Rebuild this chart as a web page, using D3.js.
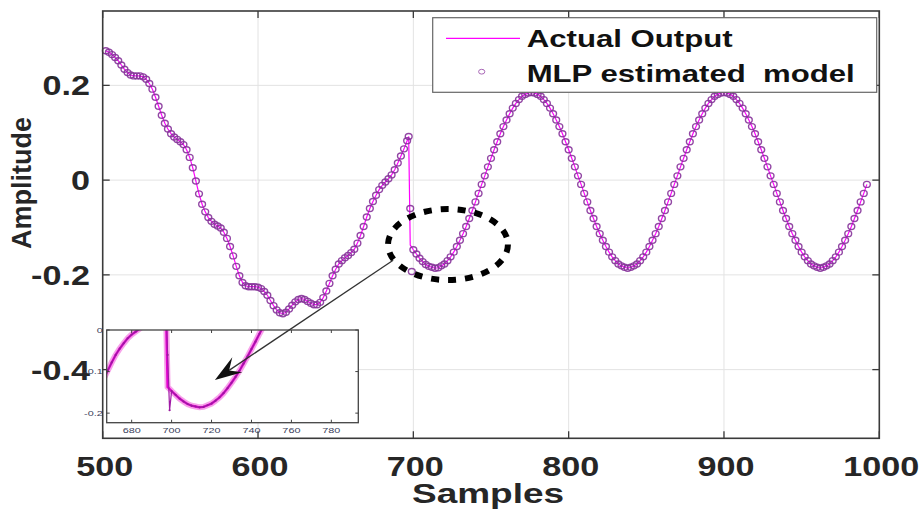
<!DOCTYPE html>
<html>
<head>
<meta charset="utf-8">
<script src="https://cdnjs.cloudflare.com/ajax/libs/d3/7.8.5/d3.min.js"></script>
<style>
  body { margin: 0; background: #fff; }
  svg { display: block; font-family: "Liberation Sans", Arial, sans-serif; }
</style>
</head>
<body>
<svg width="922" height="517"></svg>
<script>
// ################################### Data #######################################

var xTicks = [500, 600, 700, 800, 900, 1000];
var yTicks = [-0.4, -0.2, 0, 0.2];
var yTickLabels = ["-0.4", "-0.2", "0", "0.2"];
var insetXTicks = [680, 700, 720, 740, 760, 780];
var insetYTicks = [0, -0.1, -0.2];
var insetYTickLabels = ["0", "-0.1", "-0.2"];

// actual output, samples 502..696 every 2 samples
var startA = 502;
var actualA = [
  0.273, 0.270, 0.265, 0.259, 0.252, 0.243, 0.234, 0.227, 0.222, 0.220,
  0.220, 0.220, 0.218, 0.213, 0.204, 0.192, 0.175, 0.156, 0.137, 0.120,
  0.108, 0.098, 0.091, 0.086, 0.081, 0.075, 0.064, 0.048, 0.026, -0.002,
  -0.029, -0.051, -0.067, -0.079, -0.087, -0.093, -0.097, -0.101, -0.110, -0.123,
  -0.140, -0.160, -0.182, -0.202, -0.216, -0.223, -0.225, -0.225, -0.225, -0.226,
  -0.229, -0.235, -0.243, -0.254, -0.265, -0.274, -0.280, -0.282, -0.279, -0.272,
  -0.264, -0.257, -0.252, -0.250, -0.252, -0.256, -0.260, -0.263, -0.263, -0.258,
  -0.248, -0.234, -0.218, -0.202, -0.188, -0.177, -0.170, -0.164, -0.159, -0.153,
  -0.146, -0.133, -0.117, -0.098, -0.078, -0.060, -0.045, -0.032, -0.020, -0.011,
  -0.004, 0.003, 0.011, 0.022, 0.036, 0.051, 0.066, 0.083
];

// the jump
var jumpSamples = [697, 698, 699, 700];
var actualJump = [0.092, -0.137, -0.142, -0.147];

// actual output, samples 702..992 every 2 samples
var startB = 702;
var actualB = [
  -0.156, -0.165, -0.172, -0.178, -0.182, -0.184, -0.186, -0.185, -0.181, -0.177,
  -0.170, -0.162, -0.152, -0.140, -0.127, -0.113, -0.098, -0.081, -0.064, -0.046,
  -0.028, -0.009, 0.009, 0.028, 0.046, 0.064, 0.081, 0.098, 0.113, 0.127,
  0.140, 0.152, 0.162, 0.170, 0.177, 0.181, 0.184, 0.185,
  0.184, 0.181, 0.177, 0.170, 0.162, 0.152, 0.140, 0.127, 0.113, 0.098,
  0.081, 0.064, 0.046, 0.028, 0.009, -0.009, -0.028, -0.046, -0.064, -0.081,
  -0.098, -0.113, -0.127, -0.140, -0.152, -0.162, -0.170, -0.177, -0.181, -0.184,
  -0.186,
  -0.184, -0.181, -0.177, -0.170, -0.162, -0.152, -0.140, -0.127, -0.113, -0.098,
  -0.081, -0.064, -0.046, -0.028, -0.009, 0.009, 0.028, 0.046, 0.064, 0.081,
  0.098, 0.113, 0.127, 0.140, 0.152, 0.162, 0.170, 0.177, 0.181, 0.184,
  0.185,
  0.184, 0.181, 0.177, 0.170, 0.162, 0.152, 0.140, 0.127, 0.113, 0.098,
  0.081, 0.064, 0.046, 0.028, 0.009, -0.009, -0.028, -0.046, -0.064, -0.081,
  -0.098, -0.113, -0.127, -0.140, -0.152, -0.162, -0.170, -0.177, -0.181, -0.184,
  -0.186,
  -0.184, -0.181, -0.177, -0.170, -0.162, -0.152, -0.140, -0.127, -0.113, -0.098,
  -0.081, -0.064, -0.046, -0.028, -0.009
];

// where the MLP estimate differs from the actual output
var mlpOutlierSamples = [698, 699];
var mlpOutlierValues = [-0.060, -0.193];

var rows = [];
actualA.forEach(function(v, i) { rows.push({s: startA + 2 * i, actual: v}); });
jumpSamples.forEach(function(s, i) { rows.push({s: s, actual: actualJump[i]}); });
actualB.forEach(function(v, i) { rows.push({s: startB + 2 * i, actual: v}); });
rows.forEach(function(d) {
  var k = mlpOutlierSamples.indexOf(d.s);
  d.mlp = k >= 0 ? mlpOutlierValues[k] : d.actual;
});

// ################################### Layout #######################################

var svg = d3.select('svg');
var plot = {l: 102.7, r: 879.3, t: 11, b: 438.3};
var inset = {l: 106.7, r: 358.3, t: 330, b: 422.7};

var x = d3.scaleLinear().domain([500, 1000]).range([plot.l, plot.r]);
var y = d3.scaleLinear().domain([-0.545, 0.357]).range([plot.b, plot.t]);
var xi = d3.scaleLinear().domain([667.5, 793.5]).range([inset.l, inset.r]);
var yi = d3.scaleLinear().domain([-0.223, 0]).range([inset.b, inset.t]);

var textColor = "#262626";
var lineColor = "#ff00ff";
var markerColor = "#86339a";

// stretch text horizontally (the reference picture is wider than it is tall)
function stretch(sel, f) {
  sel.each(function() {
    var w = this.getComputedTextLength();
    d3.select(this).attr("textLength", w * f).attr("lengthAdjust", "spacingAndGlyphs");
  });
}

// ################################### Main axes #######################################

var gridG = svg.append('g');
gridG.selectAll('line.gx').data(xTicks.slice(1, -1)).enter().append('line')
  .attr('x1', function(d) { return x(d); }).attr('x2', function(d) { return x(d); })
  .attr('y1', plot.t).attr('y2', plot.b)
  .attr('stroke', '#e3e3e3').attr('stroke-width', 1);
gridG.selectAll('line.gy').data(yTicks).enter().append('line')
  .attr('x1', plot.l).attr('x2', plot.r)
  .attr('y1', function(d) { return y(d); }).attr('y2', function(d) { return y(d); })
  .attr('stroke', '#e3e3e3').attr('stroke-width', 1);

// Actual output line
var line = d3.line().x(function(d) { return x(d.s); }).y(function(d) { return y(d.actual); });
svg.append('path').datum(rows)
  .attr('d', line)
  .attr('fill', 'none')
  .attr('stroke', lineColor)
  .attr('stroke-width', 1.2);

// MLP markers
svg.append('g').selectAll('ellipse').data(rows).enter().append('ellipse')
  .attr('cx', function(d) { return x(d.s); })
  .attr('cy', function(d) { return y(d.mlp); })
  .attr('rx', 3.4).attr('ry', 3.0)
  .attr('fill', 'none')
  .attr('stroke', markerColor)
  .attr('stroke-opacity', 0.9)
  .attr('stroke-width', 1.4);

// frame + ticks
svg.append('rect')
  .attr('x', plot.l).attr('y', plot.t)
  .attr('width', plot.r - plot.l).attr('height', plot.b - plot.t)
  .attr('fill', 'none').attr('stroke', '#3a3a3a').attr('stroke-width', 1.6);

var tickG = svg.append('g').attr('stroke', '#3a3a3a').attr('stroke-width', 1.3);
xTicks.forEach(function(t) {
  tickG.append('line').attr('x1', x(t)).attr('x2', x(t)).attr('y1', plot.b).attr('y2', plot.b - 7);
  tickG.append('line').attr('x1', x(t)).attr('x2', x(t)).attr('y1', plot.t).attr('y2', plot.t + 7);
});
yTicks.forEach(function(t) {
  tickG.append('line').attr('x1', plot.l).attr('x2', plot.l + 7).attr('y1', y(t)).attr('y2', y(t));
  tickG.append('line').attr('x1', plot.r).attr('x2', plot.r - 7).attr('y1', y(t)).attr('y2', y(t));
});

var xLab = svg.append('g').selectAll('text').data(xTicks).enter().append('text')
  .attr('x', function(d) { return x(d) + 2; })
  .attr('y', 476)
  .attr('text-anchor', 'middle')
  .attr('font-size', '28px').attr('font-weight', 'bold')
  .attr('fill', textColor)
  .text(function(d) { return d; });
stretch(xLab, 1.22);

var yLab = svg.append('g').selectAll('text').data(yTicks).enter().append('text')
  .attr('x', 90)
  .attr('y', function(d) { return y(d) + 10; })
  .attr('text-anchor', 'end')
  .attr('font-size', '28px').attr('font-weight', 'bold')
  .attr('fill', textColor)
  .text(function(d, i) { return yTickLabels[i]; });
stretch(yLab, 1.22);

var sampLab = svg.append('text')
  .attr('x', 488).attr('y', 503)
  .attr('text-anchor', 'middle')
  .attr('font-size', '28px').attr('font-weight', 'bold')
  .attr('fill', textColor)
  .text('Samples');
stretch(sampLab, 1.32);

svg.append('text')
  .attr('transform', 'translate(31,183) rotate(-90)')
  .attr('text-anchor', 'middle')
  .attr('font-size', '27px').attr('font-weight', 'bold')
  .attr('fill', textColor)
  .text('Amplitude');

// ################################### Inset #######################################

var insetG = svg.append('g');
svg.append('clipPath').attr('id', 'insetClip').append('rect')
  .attr('x', inset.l).attr('y', inset.t)
  .attr('width', inset.r - inset.l).attr('height', inset.b - inset.t);

insetG.append('rect')
  .attr('x', inset.l).attr('y', inset.t)
  .attr('width', inset.r - inset.l).attr('height', inset.b - inset.t)
  .attr('fill', '#fff');

var insetData = rows.filter(function(d) { return d.s >= 660 && d.s <= 760; });
var insetLine = d3.line().x(function(d) { return xi(d.s); }).y(function(d) { return yi(d.actual); });
var insetMlp = d3.line().x(function(d) { return xi(d.s); }).y(function(d) { return yi(d.mlp); });
var clipped = insetG.append('g').attr('clip-path', 'url(#insetClip)');
clipped.append('path').datum(insetData).attr('d', insetLine)
  .attr('fill', 'none').attr('stroke', '#f7a3ea').attr('stroke-width', 6);
clipped.append('path').datum(insetData).attr('d', insetLine)
  .attr('fill', 'none').attr('stroke', '#e600d2').attr('stroke-width', 2.4);
clipped.append('path').datum(insetData).attr('d', insetMlp)
  .attr('fill', 'none').attr('stroke', '#a01aa6').attr('stroke-width', 1.2);
clipped.selectAll('circle').data(insetData).enter().append('circle')
  .attr('cx', function(d) { return xi(d.s); })
  .attr('cy', function(d) { return yi(d.mlp); })
  .attr('r', 1.1).attr('fill', '#9a1a9e');

insetG.append('rect')
  .attr('x', inset.l).attr('y', inset.t)
  .attr('width', inset.r - inset.l).attr('height', inset.b - inset.t)
  .attr('fill', 'none').attr('stroke', '#444').attr('stroke-width', 1.3);

var iTick = insetG.append('g').attr('stroke', '#444').attr('stroke-width', 1);
insetXTicks.forEach(function(t) {
  iTick.append('line').attr('x1', xi(t)).attr('x2', xi(t)).attr('y1', inset.b).attr('y2', inset.b - 3);
  iTick.append('line').attr('x1', xi(t)).attr('x2', xi(t)).attr('y1', inset.t).attr('y2', inset.t + 3);
});
insetYTicks.forEach(function(t) {
  iTick.append('line').attr('x1', inset.l).attr('x2', inset.l + 3).attr('y1', yi(t)).attr('y2', yi(t));
  iTick.append('line').attr('x1', inset.r).attr('x2', inset.r - 3).attr('y1', yi(t)).attr('y2', yi(t));
});

var ixLab = insetG.selectAll('text.ix').data(insetXTicks).enter().append('text')
  .attr('x', function(d) { return xi(d); })
  .attr('y', 432.5)
  .attr('text-anchor', 'middle')
  .attr('font-size', '8px')
  .attr('fill', '#39405a')
  .text(function(d) { return d; });
stretch(ixLab, 1.35);

var iyLab = insetG.selectAll('text.iy').data(insetYTicks).enter().append('text')
  .attr('x', inset.l - 4)
  .attr('y', function(d) { return yi(d) + 2.5; })
  .attr('text-anchor', 'end')
  .attr('font-size', '8px')
  .attr('fill', '#39405a')
  .text(function(d, i) { return insetYTickLabels[i]; });
stretch(iyLab, 1.35);

// ################################### Annotations #######################################

// dashed ellipse round the jump
svg.append('ellipse')
  .attr('cx', x(722.3)).attr('cy', y(-0.136))
  .attr('rx', x(722.3 + 38.6) - x(722.3))
  .attr('ry', y(-0.136) - y(-0.136 + 0.075))
  .attr('fill', 'none')
  .attr('stroke', '#000')
  .attr('stroke-width', 6)
  .attr('stroke-dasharray', '8 9');

// arrow from the ellipse into the inset
var tail = [x(687), y(-0.169)];
var tip = [xi(721.7), yi(-0.120)];
var ang = Math.atan2(tip[1] - tail[1], tip[0] - tail[0]) * 180 / Math.PI;
var notch = 17;
var len = Math.hypot(tip[0] - tail[0], tip[1] - tail[1]);
svg.append('line')
  .attr('x1', tail[0]).attr('y1', tail[1])
  .attr('x2', tail[0] + (tip[0] - tail[0]) * (len - notch) / len)
  .attr('y2', tail[1] + (tip[1] - tail[1]) * (len - notch) / len)
  .attr('stroke', '#333').attr('stroke-width', 1.3);
svg.append('path')
  .attr('transform', 'translate(' + tip + ') rotate(' + ang + ')')
  .attr('d', 'M0,0 L-27,-9 L-17,0 L-27,9 Z')
  .attr('fill', '#111');

// ################################### Legend #######################################

var legendG = svg.append('g');
legendG.append('rect')
  .attr('x', 432.7).attr('y', 17.7)
  .attr('width', 444).attr('height', 74.6)
  .attr('fill', '#fff').attr('stroke', '#666').attr('stroke-width', 1.2);
legendG.append('line')
  .attr('x1', 446).attr('x2', 520).attr('y1', 38.3).attr('y2', 38.3)
  .attr('stroke', lineColor).attr('stroke-width', 1.3);
legendG.append('ellipse')
  .attr('cx', 481.7).attr('cy', 71.7).attr('rx', 3.1).attr('ry', 2.4)
  .attr('fill', 'none').attr('stroke', '#a866b6').attr('stroke-width', 1);
legendG.append('text')
  .attr('x', 526.7).attr('y', 46.7)
  .attr('font-size', '23px').attr('font-weight', 'bold').attr('fill', '#111')
  .attr('textLength', 206).attr('lengthAdjust', 'spacingAndGlyphs')
  .text('Actual Output');
legendG.append('text')
  .attr('x', 526.7).attr('y', 81.7)
  .attr('font-size', '23px').attr('font-weight', 'bold').attr('fill', '#111')
  .attr('textLength', 328).attr('lengthAdjust', 'spacingAndGlyphs')
  .attr('xml:space', 'preserve').style('white-space', 'pre')
  .text('MLP estimated  model');
</script>
</body>
</html>
